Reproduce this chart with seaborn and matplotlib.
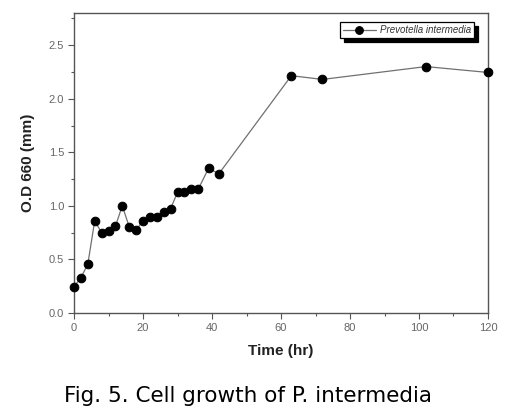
import matplotlib
matplotlib.use("Agg")
import matplotlib.pyplot as plt
from matplotlib.ticker import MultipleLocator, FixedLocator
import seaborn as sns
import pandas as pd

# data
time_hr = [0, 2, 4, 6, 8, 10, 12, 14, 16, 18, 20, 22, 24, 26, 28, 30, 32, 34, 36, 39, 42, 63, 72, 102, 120]
od660 = [0.245, 0.33, 0.455, 0.86, 0.75, 0.77, 0.81, 1.0, 0.805, 0.775, 0.86, 0.9, 0.9, 0.945, 0.975,
         1.125, 1.125, 1.155, 1.155, 1.35, 1.3, 2.215, 2.18, 2.3, 2.245]
series_label = "Prevotella intermedia"
x_ticks = [0, 20, 40, 60, 80, 100, 120]
y_ticks = [0.0, 0.5, 1.0, 1.5, 2.0, 2.5]
y_tick_labels = ["0.0", "0.5", "1.0", "1.5", "2.0", "2.5"]

sns.set_style("ticks")
plt.rcParams["font.family"] = ["Liberation Sans", "DejaVu Sans"]

df = pd.DataFrame({"Time": time_hr, "OD": od660})

fig = plt.figure(figsize=(5.19, 4.13), dpi=100)
ax = fig.add_axes([74 / 519, 1 - 313 / 413, 414 / 519, 300 / 413])

sns.lineplot(data=df, x="Time", y="OD", ax=ax, color="#707070", linewidth=0.9,
             marker="o", markersize=6.2, markerfacecolor="black", markeredgecolor="black",
             label=series_label, clip_on=False, zorder=3)

ax.set_xlim(0, 120)
ax.set_ylim(0, 2.8)
ax.xaxis.set_major_locator(FixedLocator(x_ticks))
ax.xaxis.set_minor_locator(MultipleLocator(10))
ax.yaxis.set_major_locator(FixedLocator(y_ticks))
ax.set_yticklabels(y_tick_labels)
ax.yaxis.set_minor_locator(MultipleLocator(0.25))

for side in ["left", "right", "top", "bottom"]:
    ax.spines[side].set_visible(True)
    ax.spines[side].set_color("#555555")
    ax.spines[side].set_linewidth(1.0)

ax.tick_params(which="major", direction="out", length=4, width=0.8, color="#555555",
               labelsize=8, labelcolor="#666666", pad=3)
ax.tick_params(which="minor", direction="out", length=2, width=0.8, color="#555555")

ax.set_xlabel("Time (hr)", fontsize=11, fontweight="bold", labelpad=8, color="#222222")
ax.set_ylabel("O.D 660 (mm)", fontsize=11, fontweight="bold", labelpad=10, color="#222222")

leg = ax.legend(loc="upper right", bbox_to_anchor=(0.966, 0.97), borderaxespad=0, fontsize=7,
                frameon=True, fancybox=False, edgecolor="black",
                shadow={"color": "black", "alpha": 1.0, "ox": 3, "oy": -3},
                handlelength=3.4, borderpad=0.3, handletextpad=0.4, markerscale=0.9)
leg.get_frame().set_linewidth(0.9)
for t in leg.get_texts():
    t.set_fontstyle("italic")
    t.set_color("#333333")

fig.text(248 / 519, 1 - 396 / 413, "Fig. 5. Cell growth of P. intermedia",
         ha="center", va="center", fontsize=15.5, family=["DejaVu Sans"], color="black")

fig.savefig("out.png", dpi=100)
